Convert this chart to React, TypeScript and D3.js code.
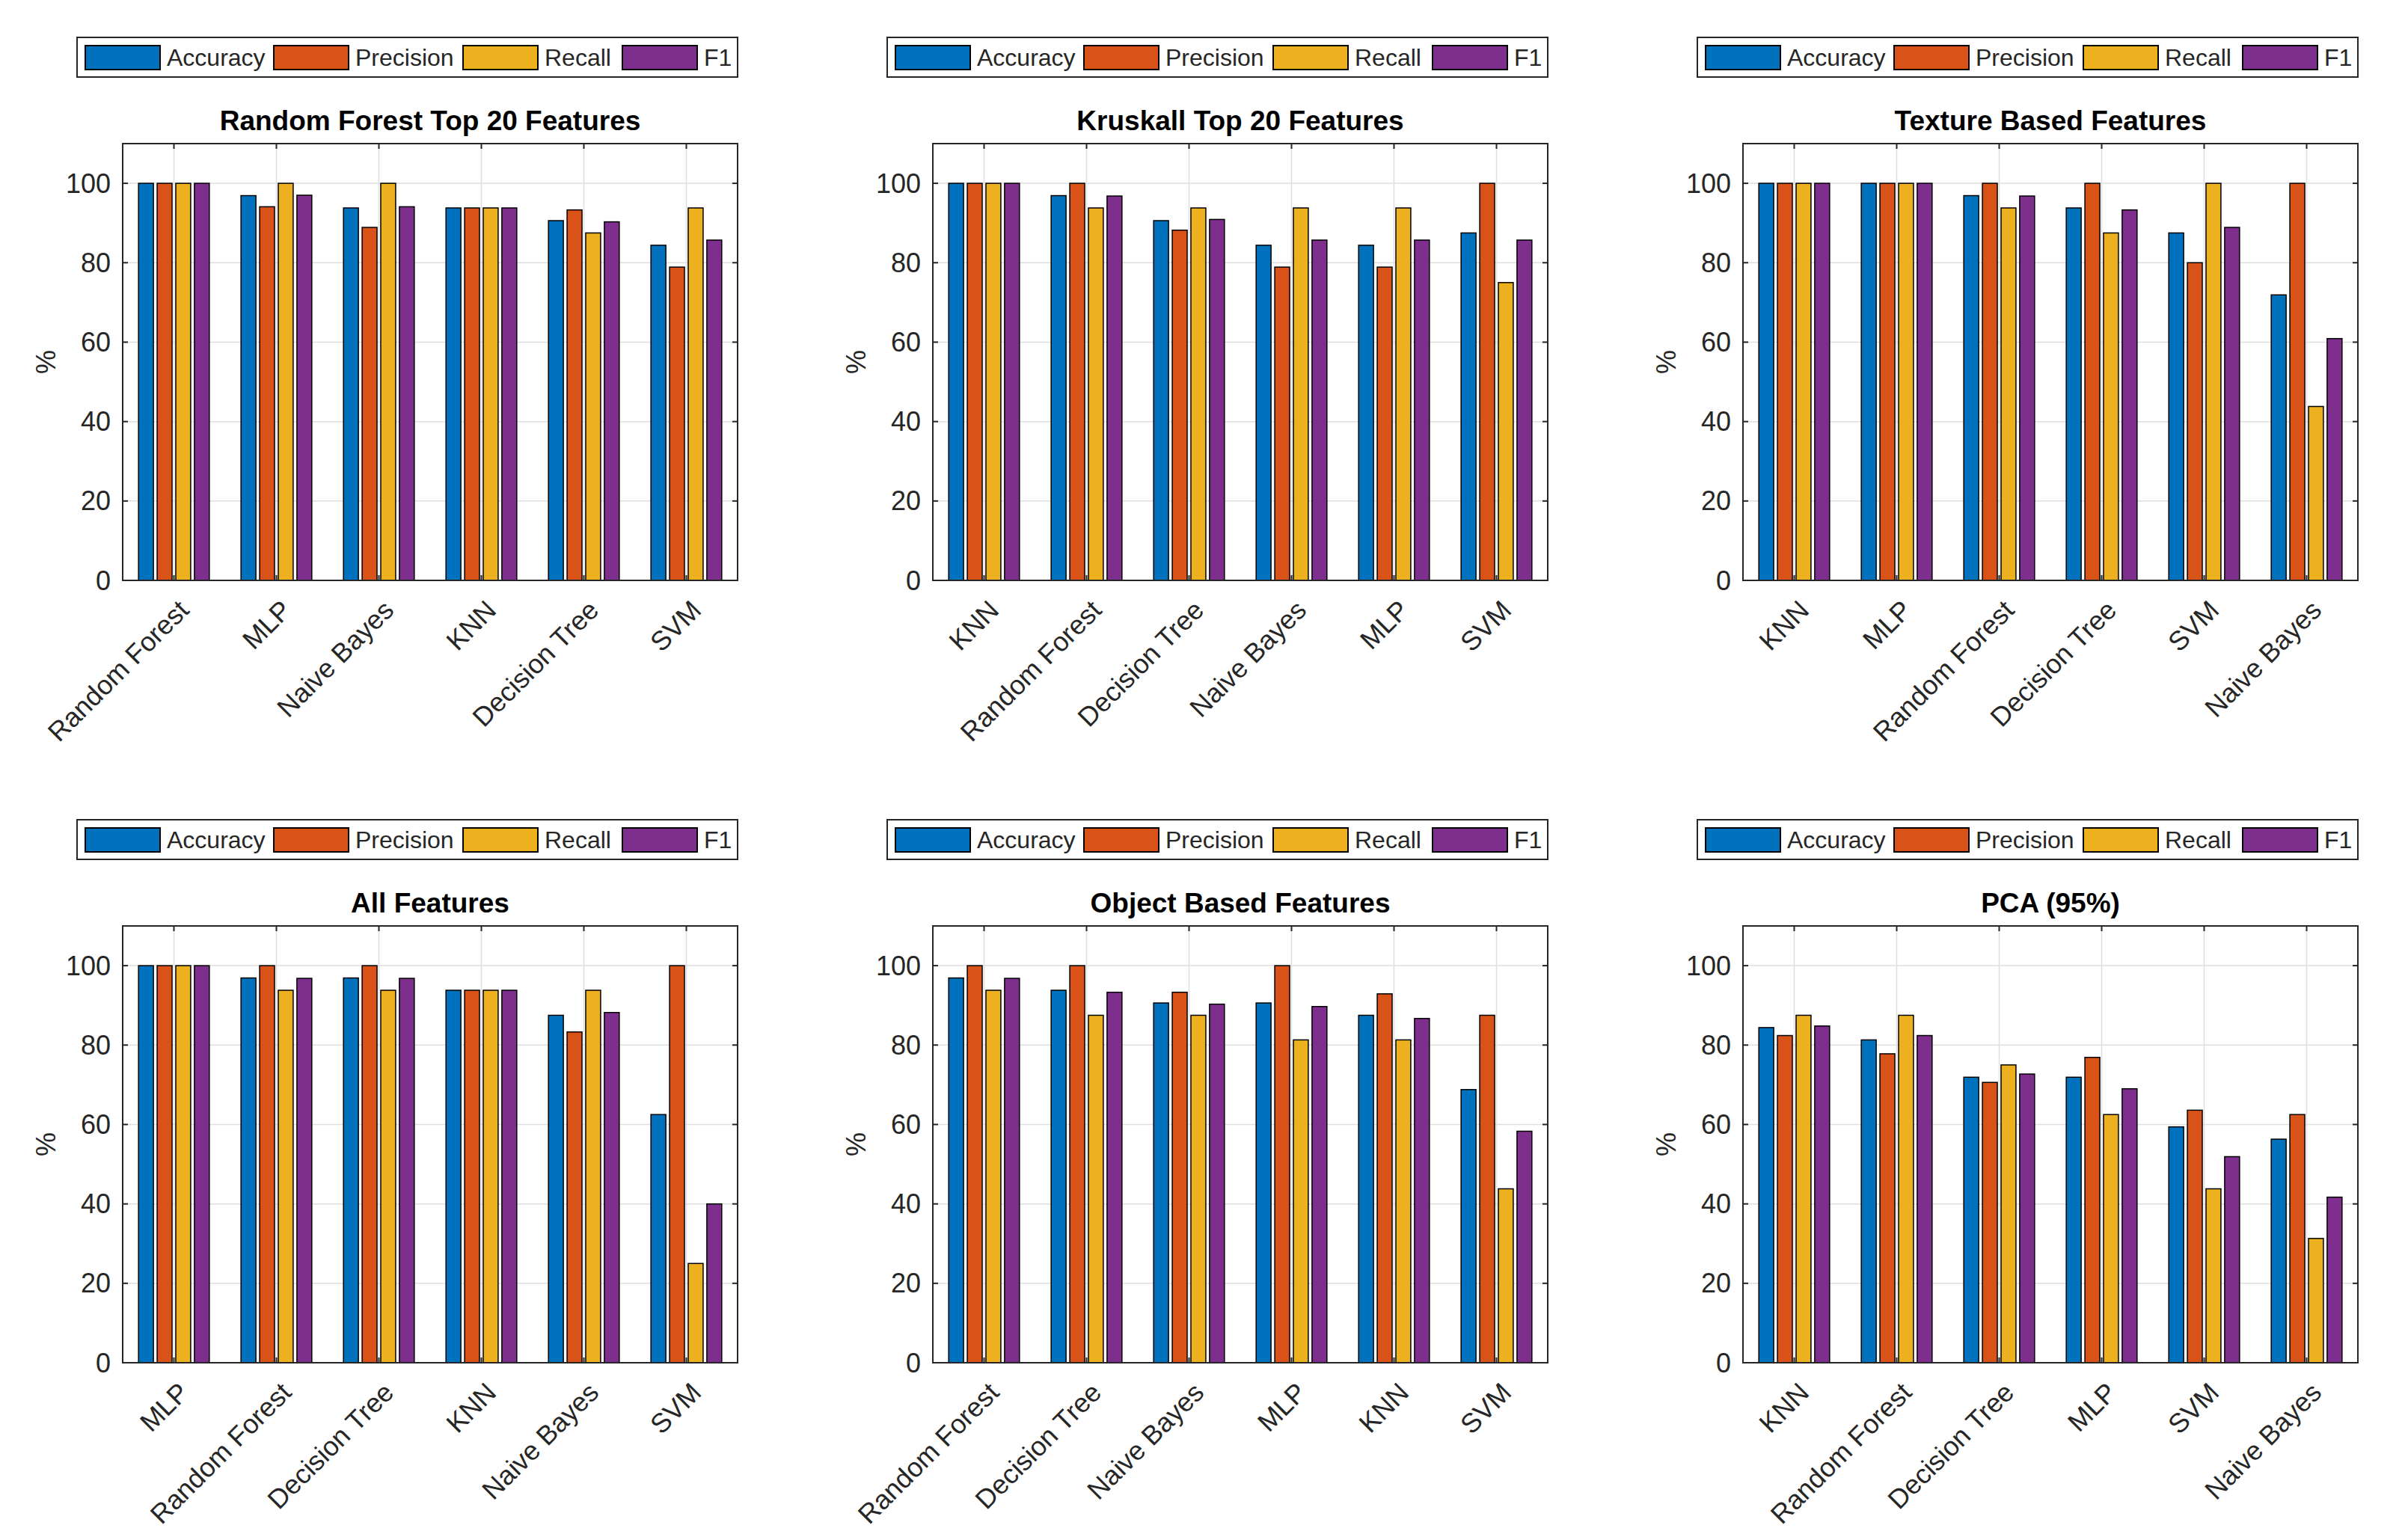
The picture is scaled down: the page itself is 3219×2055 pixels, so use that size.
import * as d3 from "d3";

// metrics (legend order)
const metrics = ["Accuracy", "Precision", "Recall", "F1"];
const metricColors = ["#0072BD", "#D95319", "#EDB120", "#7E2F8E"];
const yTicks = [0, 20, 40, 60, 80, 100];

// rows: [Accuracy, Precision, Recall, F1] per model
const rfTop20Models = ["Random Forest", "MLP", "Naive Bayes", "KNN", "Decision Tree", "SVM"];
const rfTop20Scores = [
  [100, 100, 100, 100],
  [96.9, 94.1, 100, 97.0],
  [93.8, 88.9, 100, 94.1],
  [93.8, 93.8, 93.8, 93.8],
  [90.6, 93.3, 87.5, 90.3],
  [84.4, 78.9, 93.8, 85.7],
];

const kruskallModels = ["KNN", "Random Forest", "Decision Tree", "Naive Bayes", "MLP", "SVM"];
const kruskallScores = [
  [100, 100, 100, 100],
  [96.9, 100, 93.8, 96.8],
  [90.6, 88.2, 93.8, 90.9],
  [84.4, 78.9, 93.8, 85.7],
  [84.4, 78.9, 93.8, 85.7],
  [87.5, 100, 75.0, 85.7],
];

const textureModels = ["KNN", "MLP", "Random Forest", "Decision Tree", "SVM", "Naive Bayes"];
const textureScores = [
  [100, 100, 100, 100],
  [100, 100, 100, 100],
  [96.9, 100, 93.8, 96.8],
  [93.8, 100, 87.5, 93.3],
  [87.5, 80.0, 100, 88.9],
  [71.9, 100, 43.8, 60.9],
];

const allModels = ["MLP", "Random Forest", "Decision Tree", "KNN", "Naive Bayes", "SVM"];
const allScores = [
  [100, 100, 100, 100],
  [96.9, 100, 93.8, 96.8],
  [96.9, 100, 93.8, 96.8],
  [93.8, 93.8, 93.8, 93.8],
  [87.5, 83.3, 93.8, 88.2],
  [62.5, 100, 25.0, 40.0],
];

const objectModels = ["Random Forest", "Decision Tree", "Naive Bayes", "MLP", "KNN", "SVM"];
const objectScores = [
  [96.9, 100, 93.8, 96.8],
  [93.8, 100, 87.5, 93.3],
  [90.6, 93.3, 87.5, 90.3],
  [90.6, 100, 81.3, 89.7],
  [87.5, 92.9, 81.3, 86.7],
  [68.8, 87.5, 43.8, 58.3],
];

const pcaModels = ["KNN", "Random Forest", "Decision Tree", "MLP", "SVM", "Naive Bayes"];
const pcaScores = [
  [84.4, 82.4, 87.5, 84.8],
  [81.3, 77.8, 87.5, 82.4],
  [71.9, 70.6, 75.0, 72.7],
  [71.9, 76.9, 62.5, 69.0],
  [59.4, 63.6, 43.8, 51.9],
  [56.3, 62.5, 31.3, 41.7],
];

const panels = [
  { title: "Random Forest Top 20 Features", models: rfTop20Models, scores: rfTop20Scores },
  { title: "Kruskall Top 20 Features", models: kruskallModels, scores: kruskallScores },
  { title: "Texture Based Features", models: textureModels, scores: textureScores },
  { title: "All Features", models: allModels, scores: allScores },
  { title: "Object Based Features", models: objectModels, scores: objectScores },
  { title: "PCA (95%)", models: pcaModels, scores: pcaScores },
];

const W = 3219;
const H = 2055;
const colLeft = [164, 1247, 2330];
const rowTop = [192, 1238];
const plotW = 822;
const plotH = 584;
const font = "'Liberation Sans', Arial, Helvetica, sans-serif";
const ink = "#262626";
const legendItemX = [11, 263, 516, 729];

function Panel({ title, models, scores, left, top }) {
  const x = d3.scaleBand().domain(models).range([0, plotW]).padding(0);
  const y = d3.scaleLinear().domain([0, 110]).range([plotH, 0]);
  const groupW = x.bandwidth() * (4 / 5.5);
  const inner = d3
    .scaleBand()
    .domain(metrics)
    .range([-groupW / 2, groupW / 2])
    .paddingInner(0.2)
    .paddingOuter(0.1);
  const tickLen = 7;

  const lgLeft = -61;
  const lgTop = -142;

  return (
    <g transform={`translate(${left},${top})`} fontFamily={font}>
      {/* legend */}
      <rect x={lgLeft} y={lgTop} width={plotW - lgLeft} height={53} fill="white" stroke={ink} strokeWidth={2} />
      {metrics.map((m, i) => (
        <g key={m} transform={`translate(${lgLeft + legendItemX[i]},${lgTop + 11})`}>
          <rect width={100} height={32} fill={metricColors[i]} stroke="black" strokeWidth={2} />
          <text x={109} y={16} dy="0.35em" fontSize={32} fill={ink}>
            {m}
          </text>
        </g>
      ))}

      {/* title */}
      <text x={plotW / 2} y={-18} textAnchor="middle" fontSize={37} fontWeight="bold" fill="black">
        {title}
      </text>

      {/* background + grid */}
      <rect width={plotW} height={plotH} fill="white" />
      {yTicks.map((t) => (
        <line key={"gy" + t} x1={0} x2={plotW} y1={y(t)} y2={y(t)} stroke="#dfdfdf" strokeWidth={1.5} />
      ))}
      {models.map((m) => (
        <line
          key={"gx" + m}
          x1={x(m) + x.bandwidth() / 2}
          x2={x(m) + x.bandwidth() / 2}
          y1={0}
          y2={plotH}
          stroke="#dfdfdf"
          strokeWidth={1.5}
        />
      ))}

      {/* bars */}
      {models.map((m, i) =>
        metrics.map((k, j) => {
          const cx = x(m) + x.bandwidth() / 2;
          const v = scores[i][j];
          return (
            <rect
              key={m + k}
              x={cx + inner(k)}
              y={y(v)}
              width={inner.bandwidth()}
              height={plotH - y(v)}
              fill={metricColors[j]}
              stroke="black"
              strokeWidth={1.5}
            />
          );
        })
      )}

      {/* ticks */}
      {yTicks.map((t) => (
        <g key={"ty" + t}>
          <line x1={0} x2={tickLen} y1={y(t)} y2={y(t)} stroke={ink} strokeWidth={2} />
          <line x1={plotW - tickLen} x2={plotW} y1={y(t)} y2={y(t)} stroke={ink} strokeWidth={2} />
          <text x={-16} y={y(t)} dy="0.35em" textAnchor="end" fontSize={36} fill={ink}>
            {t}
          </text>
        </g>
      ))}
      {models.map((m) => {
        const cx = x(m) + x.bandwidth() / 2;
        return (
          <g key={"tx" + m}>
            <line x1={cx} x2={cx} y1={plotH} y2={plotH - tickLen} stroke={ink} strokeWidth={2} />
            <line x1={cx} x2={cx} y1={0} y2={tickLen} stroke={ink} strokeWidth={2} />
            <text
              transform={`translate(${cx + 22},${plotH + 42}) rotate(-45)`}
              textAnchor="end"
              fontSize={36}
              fill={ink}
            >
              {m}
            </text>
          </g>
        );
      })}

      {/* frame */}
      <rect width={plotW} height={plotH} fill="none" stroke={ink} strokeWidth={2} />

      {/* y label */}
      <text
        transform={`translate(${-90},${plotH / 2}) rotate(-90)`}
        textAnchor="middle"
        fontSize={36}
        fill={ink}
      >
        %
      </text>
    </g>
  );
}

export default function App() {
  return (
    <svg
      width={W}
      height={H}
      viewBox={`0 0 ${W} ${H}`}
      style={{ position: "absolute", left: 0, top: 0, background: "white" }}
    >
      <rect width={W} height={H} fill="white" />
      {panels.map((p, i) => (
        <Panel
          key={p.title}
          title={p.title}
          models={p.models}
          scores={p.scores}
          left={colLeft[i % 3]}
          top={rowTop[Math.floor(i / 3)]}
        />
      ))}
    </svg>
  );
}
